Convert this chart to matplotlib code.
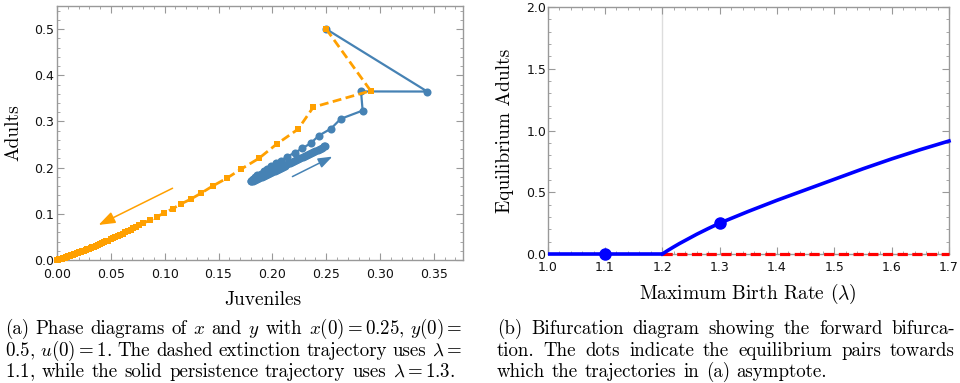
import matplotlib
matplotlib.use("Agg")
import matplotlib.pyplot as plt
from matplotlib.ticker import MultipleLocator, FormatStrFormatter
from matplotlib.transforms import IdentityTransform

plt.rcParams['mathtext.fontset'] = 'cm'
plt.rcParams['font.family'] = ['DejaVu Sans']

# ---------------- data: panel (a) ----------------
# dashed extinction trajectory (lambda = 1.1)
ext_x = [0.250, 0.2913, 0.238, 0.2238, 0.204, 0.1874, 0.1711, 0.1576, 0.1444, 0.134, 0.124,
         0.1152, 0.1074, 0.0995, 0.093, 0.0865,
         0.0794, 0.0765, 0.0737, 0.0710, 0.0684, 0.0658, 0.0633, 0.0609, 0.0585, 0.0562,
         0.0540, 0.0518, 0.0497, 0.0476, 0.0456, 0.0436, 0.0417, 0.0398, 0.0380, 0.0362,
         0.0345, 0.0328, 0.0312, 0.0296, 0.0280, 0.0265, 0.0250, 0.0236, 0.0222, 0.0208,
         0.0195, 0.0182, 0.0169, 0.0157, 0.0145, 0.0133, 0.0122, 0.0111, 0.0100, 0.0090,
         0.0080, 0.0070, 0.0061, 0.0052, 0.0043, 0.0035, 0.0027, 0.0019, 0.0012, 0.0005, 0.0]
ext_y = [0.500, 0.3663, 0.331, 0.2832, 0.251, 0.220, 0.197, 0.177, 0.160, 0.145, 0.1315,
         0.1215, 0.111, 0.1015, 0.094, 0.0863,
         0.0792, 0.0756, 0.0721, 0.0688, 0.0656, 0.0625, 0.0596, 0.0568, 0.0541, 0.0515,
         0.0491, 0.0467, 0.0444, 0.0422, 0.0401, 0.0380, 0.0361, 0.0342, 0.0324, 0.0307,
         0.0290, 0.0274, 0.0259, 0.0244, 0.0229, 0.0215, 0.0202, 0.0189, 0.0177, 0.0165,
         0.0154, 0.0143, 0.0132, 0.0122, 0.0112, 0.0102, 0.0093, 0.0084, 0.0076, 0.0068,
         0.0060, 0.0052, 0.0045, 0.0038, 0.0032, 0.0026, 0.0020, 0.0014, 0.0009, 0.0004, 0.0]

# solid persistence trajectory (lambda = 1.3)
per_x = [0.250, 0.3438, 0.2823, 0.2838, 0.2634, 0.2545, 0.2433, 0.2356, 0.2279, 0.221,
         0.2139, 0.2078, 0.2031, 0.199, 0.195, 0.192, 0.189, 0.186, 0.184, 0.182, 0.181,
         0.180, 0.180,
         0.182, 0.184, 0.186, 0.188, 0.190, 0.192, 0.194, 0.196, 0.198, 0.200, 0.202,
         0.204, 0.206, 0.208, 0.210, 0.212, 0.214, 0.216, 0.218, 0.220, 0.222, 0.224,
         0.226, 0.228, 0.230, 0.232, 0.234, 0.236, 0.238, 0.240, 0.242, 0.244, 0.246,
         0.248, 0.249]
per_y = [0.500, 0.3648, 0.365, 0.3236, 0.3056, 0.2846, 0.2695, 0.253, 0.2419, 0.2326,
         0.224, 0.2152, 0.2095, 0.203, 0.197, 0.192, 0.187, 0.183, 0.179, 0.176, 0.173,
         0.171, 0.170,
         0.1700, 0.1724, 0.1747, 0.1770, 0.1793, 0.1816, 0.1839, 0.1862, 0.1885, 0.1908,
         0.1931, 0.1954, 0.1977, 0.2000, 0.2023, 0.2046, 0.2069, 0.2091, 0.2114, 0.2137,
         0.2160, 0.2183, 0.2206, 0.2229, 0.2252, 0.2275, 0.2298, 0.2321, 0.2344, 0.2367,
         0.2390, 0.2413, 0.2436, 0.2458, 0.2470]

ext_arrow = [(0.1073, 0.1554), (0.0386, 0.0759)]   # (start, tip)
per_arrow = [(0.2186, 0.1806), (0.2557, 0.2239)]

a_xticks = [0.00, 0.05, 0.10, 0.15, 0.20, 0.25, 0.30, 0.35]
a_yticks = [0.0, 0.1, 0.2, 0.3, 0.4, 0.5]

# ---------------- data: panel (b) ----------------
lam_zero = [1.0, 1.2]
eq_zero = [0.0, 0.0]
lam_pos = [1.20, 1.21, 1.22, 1.23, 1.24, 1.25, 1.26, 1.27, 1.28, 1.29, 1.30,
           1.35, 1.40, 1.45, 1.50, 1.55, 1.60, 1.65, 1.70]
eq_pos = [0.0, 0.030, 0.058, 0.085, 0.110, 0.135, 0.160, 0.183, 0.206, 0.228, 0.250,
          0.345, 0.435, 0.520, 0.605, 0.690, 0.770, 0.845, 0.915]
lam_unstable = [1.2, 1.7]
eq_unstable = [0.0, 0.0]
dots_lam = [1.1, 1.3]
dots_eq = [0.0, 0.25]
bif_lam = 1.2
b_xticks = [1.0, 1.1, 1.2, 1.3, 1.4, 1.5, 1.6, 1.7]
b_yticks = [0.0, 0.5, 1.0, 1.5, 2.0]

BLUE_A = '#4682b4'
ORANGE = '#ffa000'
FRAME = '#999999'

fig = plt.figure(figsize=(9.6, 3.83), dpi=100)

def style(ax):
    for s in ax.spines.values():
        s.set_color(FRAME)
        s.set_linewidth(1.0)
    ax.tick_params(which='both', direction='in', top=True, right=True,
                   color=FRAME, labelcolor='#111111', labelsize=9)
    ax.tick_params(which='major', length=5, width=0.8)
    ax.tick_params(which='minor', length=2.5, width=0.6)

# ---- panel (a) ----
axA = fig.add_axes([57 / 960, 1 - 260 / 383, (463 - 57) / 960, (260 - 6) / 383])
axA.plot(ext_x, ext_y, color=ORANGE, lw=2, ls=(0, (3.2, 1.6)), marker='s', ms=3.9,
         markeredgewidth=0, zorder=4, clip_on=False)
axA.plot(per_x, per_y, color=BLUE_A, lw=1.6, marker='o', ms=5.8, markeredgewidth=0, zorder=3)
axA.annotate('', xy=ext_arrow[1], xytext=ext_arrow[0],
             arrowprops=dict(arrowstyle='-|>,head_length=0.5,head_width=0.18', color=ORANGE,
                             lw=1.1, mutation_scale=20, shrinkA=0, shrinkB=0))
axA.annotate('', xy=per_arrow[1], xytext=per_arrow[0],
             arrowprops=dict(arrowstyle='-|>,head_length=0.5,head_width=0.18', color=BLUE_A,
                             lw=1.1, mutation_scale=17, shrinkA=0, shrinkB=0))
axA.set_xlim(0, 0.377)
axA.set_ylim(0, 0.55)
axA.set_xticks(a_xticks)
axA.set_yticks(a_yticks)
axA.xaxis.set_minor_locator(MultipleLocator(0.01))
axA.yaxis.set_minor_locator(MultipleLocator(0.02))
axA.xaxis.set_major_formatter(FormatStrFormatter('%.2f'))
axA.yaxis.set_major_formatter(FormatStrFormatter('%.1f'))
style(axA)
axA.tick_params(axis='y', pad=2)
axA.tick_params(axis='x', pad=5.5)

# ---- panel (b) ----
axB = fig.add_axes([547.7 / 960, 1 - 254 / 383, (949 - 547.7) / 960, (254 - 7) / 383])
axB.axvline(bif_lam, color='#dddddd', lw=1.0, zorder=1)
axB.plot(lam_unstable, eq_unstable, color='#ff0000', lw=2.3, ls=(0, (3.2, 1.4)), zorder=4,
         clip_on=False)
axB.plot(lam_zero, eq_zero, color='#0000ff', lw=2.6, zorder=5, solid_capstyle='butt',
         clip_on=False)
axB.plot(lam_pos, eq_pos, color='#0000ff', lw=2.6, zorder=5, clip_on=False)
axB.plot(dots_lam, dots_eq, ls='none', marker='o', ms=8, color='#0000ff', zorder=6,
         clip_on=False)
axB.set_xlim(1.0, 1.7)
axB.set_ylim(0, 2.0)
axB.set_xticks(b_xticks)
axB.set_yticks(b_yticks)
axB.xaxis.set_minor_locator(MultipleLocator(0.02))
axB.yaxis.set_minor_locator(MultipleLocator(0.1))
axB.xaxis.set_major_formatter(FormatStrFormatter('%.1f'))
axB.yaxis.set_major_formatter(FormatStrFormatter('%.1f'))
style(axB)
axB.tick_params(axis='y', pad=1)
axB.tick_params(axis='x', pad=5)

# ---- axis labels (serif) ----
H = 383
pix = IdentityTransform()
LAB = dict(family='cmr10', fontsize=14, ha='center')
fig.text(13, H - 133, 'Adults', rotation=90, va='center', transform=pix, **LAB)
fig.text(263, H - 305, 'Juveniles', va='baseline', transform=pix, **LAB)
fig.text(505, H - 131, 'Equilibrium Adults', rotation=90, va='center', transform=pix, **LAB)
fig.text(748, H - 299, r'Maximum Birth Rate ($\lambda$)', va='baseline', transform=pix, **LAB)

# ---- captions (justified lines) ----
CAP_FS = 13.6
fig.canvas.draw()
renderer = fig.canvas.get_renderer()

def draw_line(tokens, x0, x1, ybase, justify=True):
    objs = [fig.text(0, H - ybase, t, family='cmr10', fontsize=CAP_FS, ha='left',
                     va='baseline', transform=pix) for t in tokens]
    widths = [o.get_window_extent(renderer).width for o in objs]
    if justify and len(objs) > 1:
        gap = ((x1 - x0) - sum(widths)) / (len(objs) - 1)
    else:
        gap = 0.36 * CAP_FS * 100 / 72
    x = x0
    for o, w in zip(objs, widths):
        o.set_x(x)
        x += w + gap

capA = [
    (['(a)', 'Phase', 'diagrams', 'of', '$x$', 'and', '$y$', 'with', r'$x(0) = 0.25,\,y(0) =$'], True),
    ([r'$0.5,\,u(0) = 1$.', 'The', 'dashed', 'extinction', 'trajectory', 'uses', r'$\lambda =$'], True),
    (['$1.1$,', 'while', 'the', 'solid', 'persistence', 'trajectory', 'uses', r'$\lambda = 1.3$.'], False),
]
capB = [
    (['(b)', 'Bifurcation', 'diagram', 'showing', 'the', 'forward', 'bifurca-'], True),
    (['tion.', 'The', 'dots', 'indicate', 'the', 'equilibrium', 'pairs', 'towards'], True),
    (['which', 'the', 'trajectories', 'in', '(a)', 'asymptote.'], False),
]
baselines = [334, 355.5, 377]
for (toks, just), yb in zip(capA, baselines):
    draw_line(toks, 5, 462, yb, just)
for (toks, just), yb in zip(capB, baselines):
    draw_line(toks, 497, 955, yb, just)

fig.savefig('out.png', dpi=100)
